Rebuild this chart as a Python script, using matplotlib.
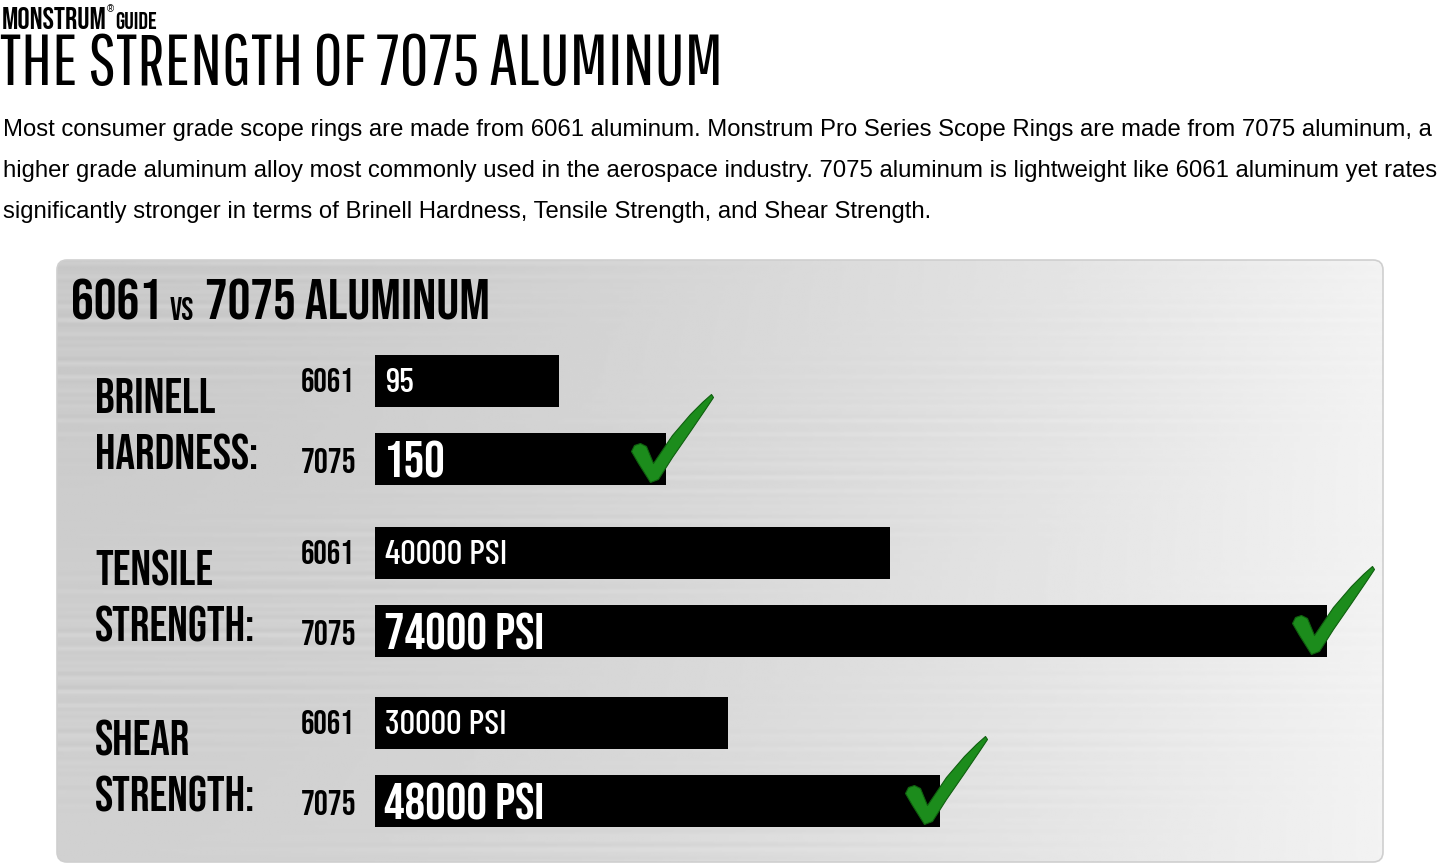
import numpy as np
import matplotlib
matplotlib.use("Agg")
import matplotlib.pyplot as plt
from matplotlib.patches import FancyBboxPatch
from matplotlib.path import Path
from matplotlib.transforms import offset_copy, blended_transform_factory

# --- data -------------------------------------------------------------
groups = ["BRINELL\nHARDNESS:", "TENSILE\nSTRENGTH:", "SHEAR\nSTRENGTH:"]
alloys = ["6061", "7075"]
vals_6061 = [95, 40000, 30000]
vals_7075 = [150, 74000, 48000]
labels_6061 = ["95", "40000 PSI", "30000 PSI"]
labels_7075 = ["150", "74000 PSI", "48000 PSI"]
# each group has its own x scale in the infographic
group_xmax = [515, 77700, 85000]

para = ["Most consumer grade scope rings are made from 6061 aluminum. Monstrum Pro Series Scope Rings are made from 7075 aluminum, a",
        "higher grade aluminum alloy most commonly used in the aerospace industry. 7075 aluminum is lightweight like 6061 aluminum yet rates",
        "significantly stronger in terms of Brinell Hardness, Tensile Strength, and Shear Strength."]

W, H = 1445, 867
BOLD = ["Bebas Neue", "Oswald", "DejaVu Sans"]
THIN = ["Pathway Gothic One", "Oswald", "DejaVu Sans"]
MED = ["Barlow Condensed", "Oswald", "DejaVu Sans"]
ARIAL = ["Liberation Sans", "Arial", "DejaVu Sans"]

fig = plt.figure(figsize=(W / 100, H / 100), dpi=100)
fig.patch.set_facecolor("white")

# full-figure overlay in pixel units (top-left origin)
ov = fig.add_axes([0, 0, 1, 1])
ov.set_xlim(0, W)
ov.set_ylim(H, 0)
ov.axis("off")

# brushed aluminium panel
px0, py0, px1, py1 = 57, 260, 1383, 862
panel = FancyBboxPatch((px0, py0), px1 - px0, py1 - py0, boxstyle="round,pad=0,rounding_size=10",
                       fc="none", ec="#cfcfcf", lw=1.2, zorder=3)
ov.add_patch(panel)
xx = np.linspace(0, 1, 660)[None, :]
yy = np.linspace(0, 1, 300)[:, None]
base = 0.79 + 0.16 * xx ** 1.6 + 0.03 * yy * (1 - xx)
streak = (np.sin(yy * 431.0) * np.sin(yy * 97.0 + 1.3) + 0.6 * np.sin(yy * 263.0 + 0.7)) \
    * (0.5 + 0.5 * np.sin(xx * 7.0 + yy * 11.0)) * (1 - 0.8 * xx)
img = np.clip(base + 0.02 * streak, 0, 1)
im = ov.imshow(img, cmap="gray", vmin=0, vmax=1, extent=[px0, px1, py1, py0], aspect="auto",
               interpolation="bilinear", zorder=1)
clip = FancyBboxPatch((px0, py0), px1 - px0, py1 - py0, boxstyle="round,pad=0,rounding_size=10",
                      transform=ov.transData, fc="none", ec="none")
im.set_clip_path(clip)

# header texts
ov.text(2, 29, "MONSTRUM", family=BOLD, fontsize=22, color="black", va="baseline")
ov.text(107, 12, "®", family=ARIAL, fontsize=7, color="black", va="baseline")
ov.text(115, 29, "GUIDE", family=BOLD, fontsize=17, color="black", va="baseline")
title = ov.text(0, 85, "THE STRENGTH OF 7075 ALUMINUM", family=THIN, fontsize=50, color="black", va="baseline")
plines = [ov.text(3, 136 + 41 * i, s, family=ARIAL, fontsize=17, color="black", va="baseline")
          for i, s in enumerate(para)]

renderer = fig.canvas.get_renderer()
def fit(t, target):
    w = t.get_window_extent(renderer).width
    t.set_fontsize(t.get_fontsize() * target / w)

def right_px(t):
    return t.get_window_extent(renderer).x1

fit(title, 722)
fit(plines[0], 1434)
for t in plines[1:]:
    t.set_fontsize(plines[0].get_fontsize())

# panel title: "6061 vs 7075 ALUMINUM"
t1 = ov.text(71, 320, "6061", family=BOLD, fontsize=41, va="baseline")
t2 = ov.text(right_px(t1) + 8, 320, "VS", family=BOLD, fontsize=23, va="baseline")
ov.text(right_px(t2) + 11, 320, "7075 ALUMINUM", family=BOLD, fontsize=41, va="baseline")

# checkmark marker, anchored at its bottom vertex (pixel units)
chk = np.array([(0, -1), (-12, 18), (-19, 30), (-16, 36), (-10, 38), (-4, 35), (3, 18), (22, 46),
                (40, 67), (52, 79), (61, 87), (63, 84), (55, 72), (40, 50), (22, 24), (8, 2), (0, -1)], float)
check = Path(chk, closed=True)
chk_ms = 2 * np.abs(chk).max() * 0.72

# --- bars ---------------------------------------------------------------
bar_left, bar_w = 375, 1000
step = 78.5
centers = [380.5, 552.5, 722.5]
for g, name in enumerate(groups):
    top = centers[g] - step / 2
    ax = fig.add_axes([bar_left / W, 1 - (top + 2 * step) / H, bar_w / W, 2 * step / H])
    ax.patch.set_alpha(0)
    ax.axis("off")
    ax.set_xlim(0, group_xmax[g])
    ax.set_ylim(1.5, -0.5)
    v = [vals_6061[g], vals_7075[g]]
    ax.barh([0, 1], v, height=52 / step, color="black", left=0)
    bt = blended_transform_factory(ax.transAxes, ax.transData)
    # alloy labels left of bars
    ax.text(-0.021, 0, alloys[0], transform=offset_copy(bt, fig=fig, y=-11, units="dots"),
            family=BOLD, fontsize=24, ha="right", va="baseline")
    ax.text(-0.019, 1, alloys[1], transform=offset_copy(bt, fig=fig, y=-14, units="dots"),
            family=BOLD, fontsize=25, ha="right", va="baseline")
    # value labels inside bars
    ax.text(0.01, 0, labels_6061[g], transform=offset_copy(bt, fig=fig, y=-12, units="dots"),
            family=MED, fontsize=25, color="white", va="baseline", weight="medium")
    ax.text(0.009, 1, labels_7075[g], transform=offset_copy(bt, fig=fig, y=-18, units="dots"),
            family=BOLD, fontsize=37, color="white", va="baseline")
    # check mark on the 7075 bar
    ax.plot([vals_7075[g]], [1], marker=check, ms=chk_ms, color="#1c8c1c", mec="#0f5f0f", mew=0.8,
            transform=offset_copy(ax.transData, fig=fig, x=-16, y=-22, units="dots"), clip_on=False)
    # category label
    l1, l2 = name.split("\n")
    ov.text(95, centers[g] + 32.5, l1, family=BOLD, fontsize=35, va="baseline")
    ov.text(95, centers[g] + 89.5, l2, family=BOLD, fontsize=35, va="baseline")

fig.savefig("out.png", dpi=100, facecolor="white")
